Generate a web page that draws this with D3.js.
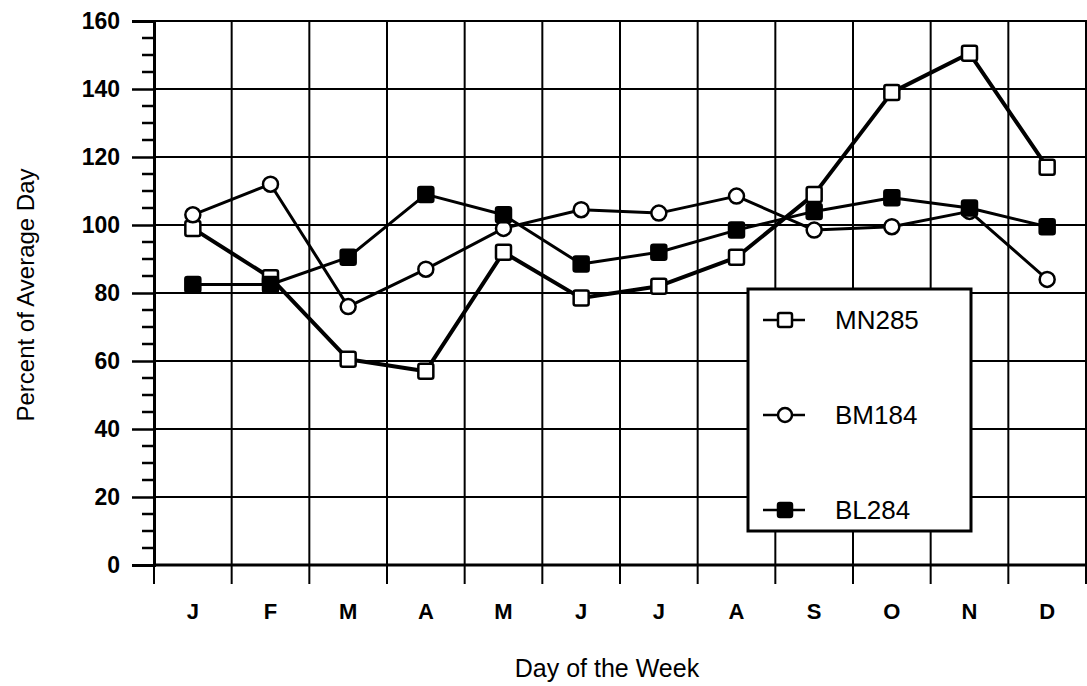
<!DOCTYPE html>
<html>
<head>
<meta charset="utf-8">
<script src="https://cdn.jsdelivr.net/npm/d3@7"></script>
<style>
  body { margin: 0; background: #fff; }
  text { font-family: "Liberation Sans", Arial, sans-serif; fill: #000; }
</style>
</head>
<body>
<svg id="chart" width="1087" height="686"></svg>
<script>
    // month letters along the bottom
    var months = ["J", "F", "M", "A", "M", "J", "J", "A", "S", "O", "N", "D"];

    // series values, percent of average day
    var mn285 = [99, 84.5, 60.5, 57, 92, 78.5, 82, 90.5, 109, 139, 150.5, 117];
    var bm184 = [103, 112, 76, 87, 99, 104.5, 103.5, 108.5, 98.5, 99.5, 104, 84];
    var bl284 = [82.5, 82.5, 90.5, 109, 103, 88.5, 92, 98.5, 104, 108, 105, 99.5];

    var yTicks = [0, 20, 40, 60, 80, 100, 120, 140, 160];
    var seriesNames = ["MN285", "BM184", "BL284"];

    var svg = d3.select("#chart");

    var plotLeft = 154, plotRight = 1086, plotTop = 21, plotBottom = 565;

    // Define our scales
    var xScale = d3.scaleBand()
        .domain(d3.range(months.length))
        .range([plotLeft, plotRight]);

    var yScale = d3.scaleLinear()
        .domain([0, 160])
        .range([plotBottom, plotTop]);

    // gridlines
    var grid = svg.append("g").attr("stroke", "#000").attr("stroke-width", 2);

    grid.selectAll(".hgrid")
        .data(yTicks)
        .enter().append("line")
        .attr("x1", plotLeft)
        .attr("x2", 1087)
        .attr("y1", function(d) { return yScale(d); })
        .attr("y2", function(d) { return yScale(d); });

    var vlines = d3.range(months.length + 1).map(function(i) {
        return i < months.length ? xScale(i) : plotRight;
    });
    grid.selectAll(".vgrid")
        .data(vlines)
        .enter().append("line")
        .attr("x1", function(d) { return d; })
        .attr("x2", function(d) { return d; })
        .attr("y1", plotTop)
        .attr("y2", plotBottom + 19);

    // y axis with minor ticks pointing left
    var yAxis = d3.axisLeft(yScale)
        .tickValues(yTicks)
        .tickSize(22)
        .tickPadding(12)
        .tickFormat(d3.format("d"));

    var gy = svg.append("g")
        .attr("transform", "translate(" + plotLeft + ",0)")
        .call(yAxis);
    gy.select(".domain").attr("stroke", "#000").attr("stroke-width", 3);
    gy.selectAll(".tick line").attr("stroke", "#000").attr("stroke-width", 2.5);
    gy.selectAll(".tick text")
        .attr("font-size", 23)
        .attr("font-weight", "bold")
        .style("font-family", "'Liberation Sans', Arial, sans-serif");

    var minor = d3.range(0, 161, 5).filter(function(d) { return d % 20 !== 0; });
    gy.selectAll(".minor")
        .data(minor)
        .enter().append("line")
        .attr("x1", -12)
        .attr("x2", 0)
        .attr("y1", function(d) { return yScale(d); })
        .attr("y2", function(d) { return yScale(d); })
        .attr("stroke", "#000")
        .attr("stroke-width", 2.5);

    // x axis line
    svg.append("line")
        .attr("x1", plotLeft)
        .attr("x2", 1087)
        .attr("y1", plotBottom)
        .attr("y2", plotBottom)
        .attr("stroke", "#000")
        .attr("stroke-width", 3);

    // month labels
    svg.append("g").selectAll("text")
        .data(months)
        .enter().append("text")
        .attr("x", function(d, i) { return xScale(i) + xScale.bandwidth() / 2; })
        .attr("y", 619)
        .attr("text-anchor", "middle")
        .attr("font-size", 22)
        .attr("font-weight", "bold")
        .text(function(d) { return d; });

    // axis titles
    svg.append("text")
        .attr("x", 607)
        .attr("y", 677)
        .attr("text-anchor", "middle")
        .attr("font-size", 25)
        .text("Day of the Week");

    svg.append("text")
        .attr("transform", "rotate(-90)")
        .attr("x", -295)
        .attr("y", 34)
        .attr("text-anchor", "middle")
        .attr("font-size", 24)
        .text("Percent of Average Day");

    // lines
    var line = d3.line()
        .x(function(d, i) { return xScale(i) + xScale.bandwidth() / 2; })
        .y(function(d) { return yScale(d); });

    var series = [
        {name: "MN285", values: mn285, shape: "square", fill: "#fff", width: 4},
        {name: "BM184", values: bm184, shape: "circle", fill: "#fff", width: 3},
        {name: "BL284", values: bl284, shape: "square", fill: "#000", width: 3}
    ];

    series.forEach(function(s) {
        svg.append("path")
            .datum(s.values)
            .attr("d", line)
            .attr("fill", "none")
            .attr("stroke", "#000")
            .attr("stroke-width", s.width)
            .attr("stroke-linejoin", "round");
    });

    function drawMarker(g, s, cx, cy, size) {
        if (s.shape === "circle") {
            g.append("circle")
                .attr("cx", cx).attr("cy", cy).attr("r", size / 2)
                .attr("fill", s.fill).attr("stroke", "#000").attr("stroke-width", 2.5);
        } else {
            g.append("rect")
                .attr("x", cx - size / 2).attr("y", cy - size / 2)
                .attr("width", size).attr("height", size).attr("rx", 2)
                .attr("fill", s.fill).attr("stroke", "#000").attr("stroke-width", 2.5);
        }
    }

    var marks = svg.append("g");
    series.forEach(function(s) {
        s.values.forEach(function(v, i) {
            drawMarker(marks, s, xScale(i) + xScale.bandwidth() / 2, yScale(v), 15);
        });
    });

    // legend
    var legend = svg.append("g");
    legend.append("rect")
        .attr("x", 748).attr("y", 289)
        .attr("width", 223).attr("height", 242)
        .attr("fill", "#fff")
        .attr("stroke", "#000")
        .attr("stroke-width", 3);

    var legendY = [320, 415, 510];
    series.forEach(function(s, i) {
        legend.append("line")
            .attr("x1", 763).attr("x2", 805)
            .attr("y1", legendY[i]).attr("y2", legendY[i])
            .attr("stroke", "#000").attr("stroke-width", 2.5);
        drawMarker(legend, s, 785, legendY[i], 14);
        legend.append("text")
            .attr("x", 835)
            .attr("y", legendY[i] + 9)
            .attr("font-size", 26)
            .text(seriesNames[i]);
    });
</script>
</body>
</html>
